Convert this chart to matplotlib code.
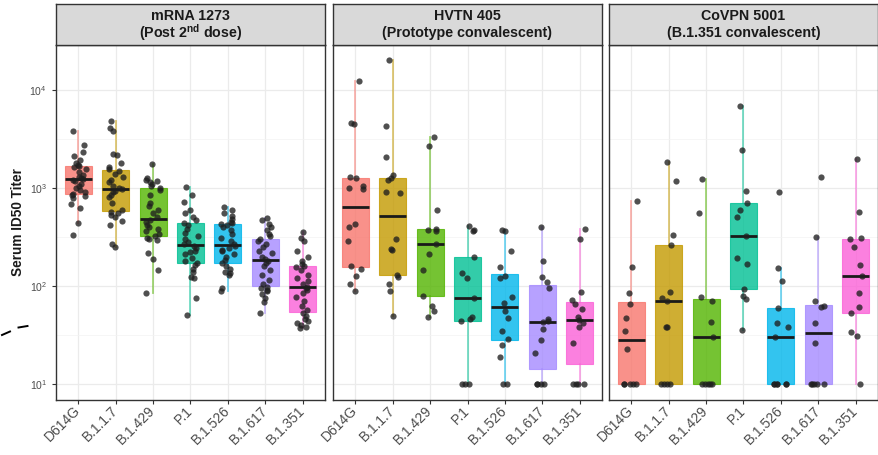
import numpy as np
import matplotlib
matplotlib.use("Agg")
import matplotlib.pyplot as plt
from matplotlib import cbook
from matplotlib.lines import Line2D
from matplotlib.ticker import FixedLocator, NullFormatter

plt.rcParams['font.family'] = ['Liberation Sans', 'DejaVu Sans']
plt.rcParams['mathtext.fontset'] = 'custom'
plt.rcParams['mathtext.rm'] = 'Liberation Sans'
plt.rcParams['mathtext.bf'] = 'Liberation Sans:bold'
plt.rcParams['mathtext.it'] = 'Liberation Sans:italic'

# ---- data -------------------------------------------------------------
variants = ["D614G", "B.1.1.7", "B.1.429", "P.1", "B.1.526", "B.1.617", "B.1.351"]
variant_colors = ["#F8766D", "#C49A00", "#53B400", "#00C094", "#00B6EB", "#A58AFF", "#FB61D7"]

panel_title_top = ["mRNA 1273", "HVTN 405", "CoVPN 5001"]
panel_title_bottom = [r"(Post 2$^{\mathbf{nd}}$ dose)", "(Prototype convalescent)", "(B.1.351 convalescent)"]

# serum ID50 titers, one list per variant (order as in `variants`)
mrna1273 = [
    [333, 440, 630, 680, 790, 820, 840, 870, 900, 950, 1000, 1050, 1100, 1180, 1220,
     1230, 1250, 1300, 1350, 1450, 1550, 1650, 1680, 1700, 1800, 1950, 2100, 2350, 2750, 3850],
    [250, 270, 420, 460, 500, 530, 560, 575, 590, 700, 800, 850, 900, 940, 970,
     1000, 1050, 1150, 1200, 1300, 1400, 1500, 1550, 1650, 1800, 2150, 2200, 3850, 4100, 4800],
    [84, 146, 187, 218, 295, 300, 310, 320, 340, 360, 380, 400, 420, 450, 470,
     500, 550, 600, 650, 700, 850, 950, 1010, 1050, 1100, 1150, 1180, 1200, 1250, 1760],
    [51, 75, 120, 125, 140, 150, 162, 170, 180, 195, 210, 220, 230, 245, 255,
     270, 280, 300, 320, 350, 380, 420, 440, 470, 500, 550, 600, 720, 850, 1020],
    [89, 95, 130, 135, 140, 150, 160, 170, 185, 200, 210, 225, 235, 245, 255,
     270, 290, 310, 340, 370, 400, 420, 430, 440, 450, 480, 520, 560, 600, 640],
    [53, 69, 75, 82, 88, 92, 95, 98, 105, 115, 130, 145, 160, 170, 178,
     190, 200, 215, 230, 250, 270, 290, 305, 320, 340, 370, 400, 430, 470, 490],
    [37, 38, 40, 42, 44, 46, 50, 53, 57, 62, 70, 78, 85, 90, 96,
     98, 105, 112, 120, 130, 145, 155, 160, 168, 178, 200, 225, 290, 310, 357],
]

hvtn405 = [
    [89, 104, 126, 150, 160, 285, 400, 425, 980, 1000, 1050, 1250, 1280, 4500, 4600, 12300],
    [50, 88, 104, 125, 130, 232, 240, 300, 880, 900, 1200, 1250, 1350, 2090, 4300, 20000],
    [48, 55, 62, 79, 146, 214, 266, 365, 375, 380, 590, 2700, 3300],
    [10, 10, 10, 44, 46, 48, 75, 120, 137, 199, 368, 372, 407],
    [10, 10, 19, 25, 29, 35, 47, 55, 67, 78, 122, 126, 158, 225, 360, 370],
    [10, 10, 10, 10, 20.5, 28, 36, 43, 44, 46, 95, 110, 125, 180, 400],
    [10, 10, 10, 10, 26, 38, 41.5, 45, 48, 58, 66, 72, 87, 300, 385],
]

covpn5001 = [
    [10, 10, 10, 10, 10, 22.6, 35, 47, 65, 84, 158, 736],
    [10, 10, 10, 10, 38, 38.5, 70, 75, 87, 262, 331, 1180, 1860],
    [10, 10, 10, 10, 10, 30, 42.5, 71, 77, 550, 1230],
    [35.5, 74, 80, 93, 166, 191, 325, 500, 597, 705, 930, 2460, 6900],
    [10, 10, 10, 10, 10, 10, 30, 38.5, 41.5, 60, 113, 152, 920],
    [10, 10, 10, 10, 10, 26, 41.5, 61, 62, 71, 316, 1306],
    [10, 31, 33.7, 52.5, 61.5, 85, 126, 164, 248, 305, 310, 565, 1980],
]

panels = [mrna1273, hvtn405, covpn5001]

y_ticks = [10, 100, 1000, 10000]
y_tick_labels = [r"$10^{1}$", r"$10^{2}$", r"$10^{3}$", r"$10^{4}$"]

# ---- layout (pixels of a 879 x 455 canvas) ---------------------------
W, H = 879, 455
fig = plt.figure(figsize=(W / 100, H / 100), dpi=100)
fig.patch.set_facecolor("white")

panel_left = [56, 333, 609]
panel_w = 269
strip_top, panel_top, panel_bottom = 3.5, 44.5, 400

border_col = "#333333"
text_col = "#4D4D4D"
rng = np.random.default_rng(11)
positions = np.arange(1, len(variants) + 1)

for p, (data, left) in enumerate(zip(panels, panel_left)):
    ax = fig.add_axes([left / W, (H - panel_bottom) / H, panel_w / W,
                       (panel_bottom - panel_top) / H])
    ax.set_yscale("log")
    ax.set_ylim(10 ** 0.837, 10 ** 4.464)
    ax.set_xlim(0.4, 7.6)

    # box statistics computed on the log10 scale, then mapped back
    stats = []
    for vals in data:
        st = cbook.boxplot_stats(np.log10(vals), whis=1.5)[0]
        for key in ("med", "q1", "q3", "whislo", "whishi"):
            st[key] = 10 ** st[key]
        st["fliers"] = []
        stats.append(st)

    art = ax.bxp(stats, positions=positions, widths=0.72, patch_artist=True,
                 showfliers=False, showcaps=False, manage_ticks=False)
    for i, col in enumerate(variant_colors):
        box = art["boxes"][i]
        box.set_facecolor(col)
        box.set_alpha(0.8)
        box.set_edgecolor(col)
        box.set_linewidth(0.8)
        box.set_zorder(2)
        for w in art["whiskers"][2 * i:2 * i + 2]:
            w.set_color(col)
            w.set_alpha(0.55)
            w.set_linewidth(1.3)
            w.set_zorder(1.5)
        med = art["medians"][i]
        med.set_color("#1A1A1A")
        med.set_linewidth(2.0)
        med.set_zorder(3)

    # jittered individual titers
    for i, vals in enumerate(data):
        xj = positions[i] + rng.uniform(-0.2, 0.2, len(vals))
        ax.scatter(xj, vals, s=20, color="#1F1F1F", alpha=0.78, linewidths=0,
                   zorder=4)

    # grid & axes styling
    ax.set_axisbelow(True)
    ax.yaxis.set_major_locator(FixedLocator(y_ticks))
    ax.yaxis.set_minor_locator(FixedLocator([10 ** 1.5, 10 ** 2.5, 10 ** 3.5]))
    ax.yaxis.set_minor_formatter(NullFormatter())
    ax.grid(True, which="major", color="#EBEBEB", linewidth=0.9)
    ax.grid(True, which="minor", axis="y", color="#F3F3F3", linewidth=0.5)
    ax.tick_params(axis="y", which="minor", length=0)
    ax.tick_params(axis="both", which="major", length=3, width=0.8,
                   color=border_col, labelcolor=text_col)
    for sp in ax.spines.values():
        sp.set_color(border_col)
        sp.set_linewidth(1.0)

    ax.set_xticks(positions)
    ax.set_xticklabels(variants, rotation=45, ha="right", va="center",
                       rotation_mode="anchor", fontsize=10)
    ax.tick_params(axis="x", pad=3)
    if p == 0:
        ax.set_yticklabels(y_tick_labels, fontsize=7.5)
    else:
        ax.set_yticklabels([])
        ax.tick_params(axis="y", which="major", length=0)

    # facet strip
    sax = fig.add_axes([left / W, (H - panel_top) / H, panel_w / W,
                        (panel_top - strip_top) / H])
    sax.set_facecolor("#D9D9D9")
    sax.set_xticks([])
    sax.set_yticks([])
    for sp in sax.spines.values():
        sp.set_color(border_col)
        sp.set_linewidth(1.0)
    sax.text(0.5, 0.70, panel_title_top[p], ha="center", va="center",
             fontsize=10.3, fontweight="bold", color="#1A1A1A",
             transform=sax.transAxes)
    sax.text(0.5, 0.28, panel_title_bottom[p], ha="center", va="center",
             fontsize=10.3, fontweight="bold", color="#1A1A1A",
             transform=sax.transAxes)

fig.text(18 / W, 1 - 222 / H, "Serum ID50 Titer", rotation=90, ha="center",
         va="center", fontsize=9.8, fontweight="bold", color="#1A1A1A")

# small dashed stroke at the left margin
for x0, y0, x1, y1 in [(2, 335, 10, 331.5), (18.5, 327.5, 27.5, 326)]:
    fig.add_artist(Line2D([x0 / W, x1 / W], [1 - y0 / H, 1 - y1 / H],
                          color="black", linewidth=1.4))

fig.savefig("out.png", dpi=100)
